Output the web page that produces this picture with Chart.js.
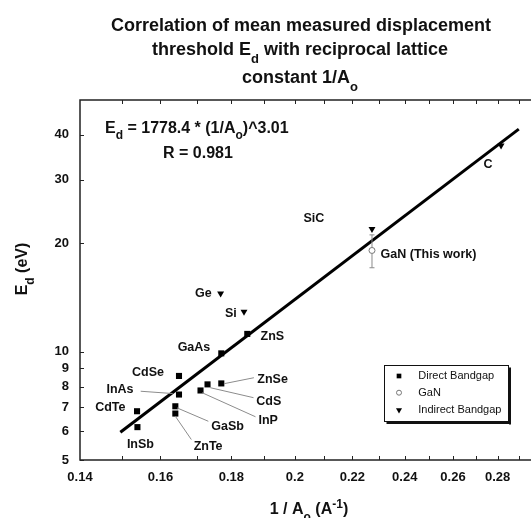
<!DOCTYPE html>
<html><head><meta charset="utf-8">
<script src="https://cdn.jsdelivr.net/npm/chart.js@4"></script>
<style>html,body{margin:0;padding:0;background:#fff;overflow:hidden}canvas{display:block}</style>
</head><body><canvas id="c" width="531" height="518"></canvas>
<script>
// ---- data ----
const directNames = ['CdSe','InAs','CdTe','InSb','GaSb','ZnTe','InP','CdS','ZnSe','GaAs','ZnS'];
const directX     = [0.165, 0.165, 0.1539, 0.154, 0.164, 0.164, 0.171, 0.173, 0.177, 0.177, 0.1848];
const directY     = [8.56, 7.6, 6.83, 6.17, 7.05, 6.73, 7.8, 8.11, 8.16, 9.89, 11.2];
const indirectNames = ['Ge','Si','SiC','C'];
const indirectX     = [0.1768, 0.1838, 0.2273, 0.2816];
const indirectY     = [14.5, 12.9, 21.9, 37.4];
const ganNames = ['GaN (This work)'];
const ganX     = [0.2273];
const ganY     = [19.1];
const ganLow   = [17.1];
const ganHigh  = [21.1];
const fitX = [0.1497, 0.29];
const fitY = [5.97, 41.5];
const xTicks = [0.14, 0.16, 0.18, 0.2, 0.22, 0.24, 0.26, 0.28];
const xMinorTicks = [0.15,0.16,0.17,0.18,0.19,0.2,0.21,0.22,0.23,0.24,0.25,0.26,0.27,0.28,0.29];
const yTicks = [5, 6, 7, 8, 9, 10, 20, 30, 40];

// ---- layout / style (not data) ----
const FONT = '"Liberation Sans", Arial, Helvetica, sans-serif';
const labelLayout = {
  'CdSe': {dx:-15, dy:-3, align:'right'},
  'InAs': {dx:-45.5, dy:-4.5, align:'right', leader:[-38.3,-3.3,-6.3,-1]},
  'CdTe': {dx:-11.5, dy:-3.4, align:'right'},
  'InSb': {dx:3, dy:17.7, align:'center'},
  'GaSb': {dx:36, dy:20, align:'left', leader:[1.7,1.6,33,15]},
  'ZnTe': {dx:18.3, dy:33.3, align:'left', leader:[0,2.7,16,26]},
  'InP':  {dx:58, dy:29.7, align:'left', leader:[1.7,2.3,55,26.3]},
  'CdS':  {dx:48.7, dy:16.7, align:'left', leader:[2.7,3.3,46,13.3]},
  'ZnSe': {dx:36, dy:-4, align:'left', leader:[2.6,0.3,32.6,-5.7]},
  'GaAs': {dx:-11, dy:-6, align:'right'},
  'ZnS':  {dx:13.3, dy:3, align:'left'},
  'Ge':   {dx:-9, dy:0, align:'right'},
  'Si':   {dx:-7.3, dy:1.6, align:'right'},
  'SiC':  {dx:-47.7, dy:-10.7, align:'right'},
  'C':    {dx:-17.6, dy:19, align:'left'},
  'GaN (This work)': {dx:8.6, dy:3.7, align:'left'}
};

function drawRuns(ctx, runs, x, y, align, size) {
  const fonts = runs.map(r => 'bold ' + (r[1] ? Math.round(size*0.72) : size) + 'px ' + FONT);
  let widths = runs.map((r,i) => { ctx.font = fonts[i]; return ctx.measureText(r[0]).width; });
  let total = widths.reduce((a,b)=>a+b,0);
  let cx = align === 'center' ? x - total/2 : (align === 'right' ? x - total : x);
  ctx.textAlign = 'left'; ctx.textBaseline = 'alphabetic';
  runs.forEach((r,i) => {
    ctx.font = fonts[i];
    const off = r[1] === 1 ? size*0.42 : (r[1] === 2 ? -size*0.38 : 0);
    ctx.fillText(r[0], cx, y + off);
    cx += widths[i];
  });
}

const decor = {
  id: 'decor',
  afterDraw(chart) {
    const ctx = chart.ctx, a = chart.chartArea;
    const xs = chart.scales.x, ys = chart.scales.y;
    const W = chart.width;
    ctx.save();
    ctx.strokeStyle = '#222'; ctx.lineWidth = 1.5;
    ctx.beginPath();
    ctx.moveTo(W, a.top); ctx.lineTo(a.left, a.top); ctx.lineTo(a.left, a.bottom); ctx.lineTo(W, a.bottom);
    ctx.stroke();
    ctx.lineWidth = 1;
    ctx.beginPath();
    xMinorTicks.forEach(v => {
      const px = Math.round(xs.getPixelForValue(v)) + 0.5;
      ctx.moveTo(px, a.bottom); ctx.lineTo(px, a.bottom - 4);
      ctx.moveTo(px, a.top); ctx.lineTo(px, a.top + 4);
    });
    yTicks.forEach(v => {
      const py = Math.round(ys.getPixelForValue(v)) + 0.5;
      ctx.moveTo(a.left, py); ctx.lineTo(a.left + 4, py);
    });
    ctx.stroke();

    ctx.strokeStyle = '#8a8a8a'; ctx.lineWidth = 1;
    ganX.forEach((gx,i) => {
      const px = xs.getPixelForValue(gx);
      const pl = ys.getPixelForValue(ganLow[i]), ph = ys.getPixelForValue(ganHigh[i]);
      const pc = ys.getPixelForValue(ganY[i]);
      ctx.beginPath();
      ctx.moveTo(px, ph); ctx.lineTo(px, pc - 3);
      ctx.moveTo(px, pc + 3); ctx.lineTo(px, pl);
      ctx.moveTo(px - 2.5, ph); ctx.lineTo(px + 2.5, ph);
      ctx.moveTo(px - 2.5, pl); ctx.lineTo(px + 2.5, pl);
      ctx.stroke();
    });

    const all = [];
    directNames.forEach((n,i)=>all.push([n, directX[i], directY[i]]));
    indirectNames.forEach((n,i)=>all.push([n, indirectX[i], indirectY[i]]));
    ganNames.forEach((n,i)=>all.push([n, ganX[i], ganY[i]]));
    all.forEach(([n, vx, vy]) => {
      const L = labelLayout[n]; if (!L) return;
      const px = xs.getPixelForValue(vx), py = ys.getPixelForValue(vy);
      if (L.leader) {
        ctx.strokeStyle = '#8c8c8c'; ctx.lineWidth = 1;
        ctx.beginPath();
        ctx.moveTo(px + L.leader[0], py + L.leader[1]);
        ctx.lineTo(px + L.leader[2], py + L.leader[3]);
        ctx.stroke();
      }
      ctx.fillStyle = '#111';
      ctx.font = 'bold 12.5px ' + FONT;
      ctx.textAlign = L.align; ctx.textBaseline = 'middle';
      ctx.fillText(n, px + L.dx, py + L.dy);
    });

    ctx.fillStyle = '#111';
    drawRuns(ctx, [['Correlation of mean measured displacement',0]], 301, 31, 'center', 18);
    drawRuns(ctx, [['threshold E',0],['d',1],[' with reciprocal lattice',0]], 300, 55, 'center', 18);
    drawRuns(ctx, [['constant 1/A',0],['o',1]], 300, 83, 'center', 18);

    drawRuns(ctx, [['E',0],['d',1],[' = 1778.4 * (1/A',0],['o',1],[')^3.01',0]], 105, 132.7, 'left', 16);
    drawRuns(ctx, [['R = 0.981',0]], 163, 158.3, 'left', 16);

    drawRuns(ctx, [['1 / A',0],['o',1],[' (A',0],['-1',2],[')',0]], 309, 514, 'center', 16);
    ctx.save();
    ctx.translate(20, 269); ctx.rotate(-Math.PI/2);
    drawRuns(ctx, [['E',0],['d',1],[' (eV)',0]], 0, 7, 'center', 16);
    ctx.restore();

    const lx = 384.5, ly = 365.5, lw = 124, lh = 56;
    ctx.fillStyle = '#fff'; ctx.fillRect(lx, ly, lw, lh);
    ctx.fillStyle = '#111';
    ctx.fillRect(lx + lw + 0.5, ly + 2, 2, lh + 1);
    ctx.fillRect(lx + 2, ly + lh + 0.5, lw + 0.5, 2);
    ctx.strokeStyle = '#111'; ctx.lineWidth = 1;
    ctx.strokeRect(lx, ly, lw, lh);
    const entries = [
      ['Direct Bandgap', {pointStyle:'rect', radius:3.3, rotation:0, borderWidth:0}, '#000', '#000', 376],
      ['GaN', {pointStyle:'circle', radius:2.5, rotation:0, borderWidth:1}, '#fff', '#777', 392.7],
      ['Indirect Bandgap', {pointStyle:'triangle', radius:3.5, rotation:180, borderWidth:0}, '#000', '#000', 410]
    ];
    entries.forEach(([t, opt, fill, stroke, yy]) => {
      ctx.fillStyle = fill; ctx.strokeStyle = stroke; ctx.lineWidth = opt.borderWidth || 0.01;
      Chart.helpers.drawPoint(ctx, opt, 399, yy);
      ctx.fillStyle = '#111';
      ctx.font = '11px ' + FONT; ctx.textAlign = 'left'; ctx.textBaseline = 'middle';
      ctx.fillText(t, 418.3, yy);
    });
    ctx.restore();
  }
};

const ctx = document.getElementById('c').getContext('2d');
new Chart(ctx, {
  type: 'scatter',
  data: {
    datasets: [
      { type:'line', label:'fit', data: fitX.map((x,i)=>({x, y: fitY[i]})),
        borderColor:'#000', borderWidth:3, pointRadius:0, fill:false, order:0 },
      { label:'Direct Bandgap', data: directX.map((x,i)=>({x, y: directY[i]})),
        pointStyle:'rect', pointRadius:4.3, backgroundColor:'#000', borderColor:'#000', borderWidth:0, order:1 },
      { label:'GaN', data: ganX.map((x,i)=>({x, y: ganY[i]})),
        pointStyle:'circle', pointRadius:3, backgroundColor:'#fff', borderColor:'#777', borderWidth:1, order:1 },
      { label:'Indirect Bandgap', data: indirectX.map((x,i)=>({x, y: indirectY[i]})),
        pointStyle:'triangle', rotation:180, pointRadius:4, backgroundColor:'#000', borderColor:'#000', borderWidth:0, order:1 }
    ]
  },
  options: {
    responsive:false, animation:false, devicePixelRatio:1,
    layout: { padding: { top:100, right:0, left:0, bottom:0 } },
    plugins: { legend:{display:false}, tooltip:{enabled:false}, title:{display:false} },
    scales: {
      x: {
        type:'logarithmic', min:0.14, max:0.2935,
        grid:{display:false, drawTicks:false}, border:{display:false},
        afterBuildTicks: s => { s.ticks = xTicks.map(v => ({value:v})); },
        afterFit: s => { s.height = 58; },
        ticks: { autoSkip:false, maxRotation:0, minRotation:0, padding:10, color:'#111',
                 font:{family:FONT, size:13, weight:'bold'}, callback: v => String(v) }
      },
      y: {
        type:'logarithmic', min:5, max:50,
        grid:{display:false, drawTicks:false}, border:{display:false},
        afterBuildTicks: s => { s.ticks = yTicks.map(v => ({value:v})); },
        afterFit: s => { s.width = 80; },
        ticks: { autoSkip:false, padding:11, color:'#111',
                 font:{family:FONT, size:13, weight:'bold'}, callback: v => String(v) }
      }
    }
  },
  plugins: [decor]
});
</script>
</body></html>
